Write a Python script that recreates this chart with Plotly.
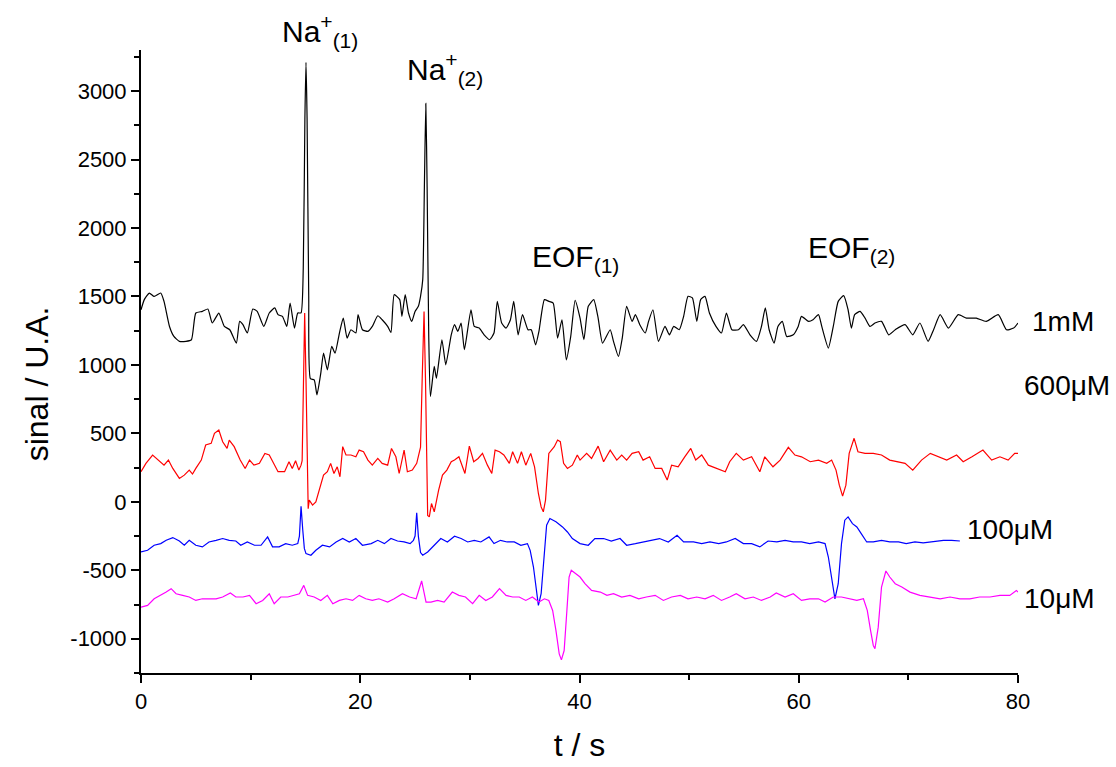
import plotly.graph_objects as go

# ---- data ----
t_1mM = [0, 0.3, 0.76, 1.2, 1.8, 2.1, 2.6, 3.0, 3.5, 4.1, 4.6, 5.0, 5.6, 6.1, 6.5, 7.1, 7.6, 8.1, 8.7, 9.0,
         9.3, 9.7, 10.2, 10.6, 11.2, 11.7, 12.2, 12.5, 12.9, 13.3, 13.6, 14.0, 14.3, 14.6, 14.8, 14.95, 15.05,
         15.15, 15.3, 15.45, 15.8, 16.05, 16.4, 16.65, 17.0, 17.4, 17.7, 18.1, 18.45, 18.8, 19.15, 19.6, 19.8,
         20.2, 20.7, 21.1, 21.6, 22.0, 22.5, 22.8, 23.1, 23.6, 23.8, 24.1, 24.4, 24.7, 25.0, 25.3, 25.5, 25.7,
         25.85, 25.98, 26.1, 26.25, 26.4, 26.75, 26.95, 27.45, 27.8, 28.3, 28.6, 28.9, 29.2, 29.5, 30.1, 30.4,
         30.85, 31.3, 31.8, 32.2, 32.5, 32.9, 33.3, 33.7, 34.0, 34.4, 34.8, 35.3, 35.6, 36.0, 36.3, 36.8, 37.2,
         37.6, 38.0, 38.4, 38.8, 39.2, 39.6, 40.05, 40.4, 40.8, 41.3, 41.7, 42.1, 42.8, 43.1, 43.55, 43.9, 44.3,
         44.8, 45.1, 45.5, 46.0, 46.3, 46.7, 47.2, 47.8, 48.2, 48.6, 49.1, 49.5, 49.9, 50.3, 50.7, 51.05, 51.45,
         51.85, 52.45, 52.95, 53.4, 53.9, 54.5, 54.95, 55.55, 56.15, 56.6, 56.95, 57.3, 57.75, 58.1, 58.5, 58.9,
         59.5, 59.95, 60.25, 60.9, 61.3, 61.8, 62.1, 62.7, 63.15, 63.6, 64.1, 64.5, 64.8, 65.1, 65.6, 66.05,
         66.5, 66.95, 67.55, 68.2, 68.8, 69.7, 70.4, 71.05, 71.8, 72.3, 72.9, 73.65, 74.55, 75.3, 76.2, 77.1,
         78.2, 78.95, 79.6, 80.0]
y_1mM = [1403, 1477, 1525, 1500, 1525, 1464, 1281, 1208, 1172, 1172, 1184, 1379, 1391, 1408, 1306, 1379, 1281,
         1257, 1159, 1318, 1294, 1233, 1408, 1391, 1281, 1379, 1416, 1367, 1355, 1281, 1452, 1269, 1379, 1380,
         1700, 2800, 3210, 2800, 1500, 900, 891, 781, 940, 1086, 964, 1135, 1086, 1233, 1342, 1196, 1257, 1233,
         1367, 1257, 1245, 1281, 1359, 1330, 1281, 1237, 1513, 1477, 1355, 1513, 1379, 1318, 1391, 1428, 1501,
         1623, 2300, 2910, 2300, 1200, 769, 989, 903, 1184, 1001, 1220, 1294, 1245, 1306, 1111, 1403, 1281, 1269,
         1220, 1184, 1233, 1464, 1306, 1269, 1330, 1464, 1220, 1367, 1257, 1257, 1147, 1245, 1477, 1464, 1452,
         1196, 1330, 1037, 1208, 1472, 1342, 1184, 1428, 1477, 1342, 1159, 1257, 1172, 1062, 1196, 1428, 1318,
         1367, 1294, 1233, 1318, 1403, 1172, 1281, 1220, 1281, 1257, 1355, 1501, 1489, 1318, 1477, 1501, 1379,
         1281, 1233, 1379, 1257, 1257, 1294, 1220, 1172, 1281, 1416, 1257, 1159, 1281, 1318, 1208, 1220, 1281,
         1355, 1318, 1330, 1367, 1281, 1123, 1281, 1464, 1506, 1403, 1269, 1367, 1391, 1342, 1281, 1306, 1318,
         1220, 1257, 1294, 1220, 1306, 1172, 1257, 1367, 1269, 1367, 1342, 1342, 1318, 1367, 1257, 1269, 1306]

t_600uM = [0, 0.45, 1.06, 1.7, 2.1, 2.5, 2.9, 3.5, 3.95, 4.4, 4.7, 5.0, 5.5, 5.9, 6.4, 6.7, 7.1, 7.45, 7.85,
           8.05, 8.5, 9.05, 9.5, 9.9, 10.3, 10.8, 11.3, 11.7, 12.2, 12.5, 13.1, 13.5, 13.8, 14.1, 14.4, 14.6,
           14.7, 14.82, 14.93, 15.05, 15.15, 15.25, 15.35, 15.65, 15.95, 16.25, 16.65, 17.0, 17.3, 17.6, 17.9,
           18.15, 18.4, 18.7, 19.15, 19.6, 19.9, 20.3, 20.7, 21.1, 21.6, 22.0, 22.5, 22.85, 23.25, 23.55, 24.0,
           24.3, 24.75, 25.15, 25.4, 25.5, 25.65, 25.82, 25.95, 26.05, 26.15, 26.3, 26.5, 26.75, 27.15, 27.5,
           27.9, 28.3, 28.6, 29.0, 29.25, 29.55, 29.95, 30.35, 30.75, 31.15, 31.6, 32.0, 32.3, 32.7, 33.1, 33.6,
           33.9, 34.35, 34.7, 35.1, 35.55, 35.9, 36.25, 36.5, 36.7, 36.9, 37.2, 37.7, 38.0, 38.25, 38.55, 38.9,
           39.35, 39.8, 40.05, 40.65, 41.1, 41.7, 42.2, 42.8, 43.4, 43.85, 44.3, 44.8, 45.4, 45.8, 46.4, 46.9,
           47.5, 48.0, 48.4, 49.0, 49.6, 50.15, 50.6, 51.15, 51.75, 52.5, 53.3, 53.7, 54.3, 54.95, 55.7, 56.45,
           56.9, 57.65, 58.3, 59.05, 59.65, 60.25, 61.05, 61.8, 62.55, 63.0, 63.4, 63.7, 64.0, 64.3, 64.6, 64.8,
           65.05, 65.4, 66.05, 66.8, 67.55, 68.3, 69.1, 69.7, 70.4, 71.2, 72.0, 72.7, 73.5, 74.4, 75.0, 75.8,
           76.8, 77.6, 78.35, 79.1, 79.7, 80.0]
y_600uM = [220, 281, 342, 293, 268, 305, 244, 171, 195, 232, 203, 244, 305, 415, 427, 500, 525, 439, 390, 451,
           403, 305, 244, 305, 268, 281, 354, 342, 268, 220, 220, 293, 244, 300, 232, 268, 300, 900, 1380, 900,
           200, -50, 12, -24, 0, 85, 195, 220, 281, 207, 256, 183, 403, 342, 342, 329, 378, 366, 305, 268, 317,
           281, 268, 390, 329, 207, 378, 220, 232, 281, 354, 400, 900, 1390, 900, 200, -100, -110, -12, -73, 85,
           195, 232, 293, 305, 329, 268, 207, 407, 293, 317, 354, 268, 207, 378, 366, 342, 281, 366, 281, 366,
           268, 354, 256, 61, -37, -73, 12, 354, 403, 451, 439, 281, 244, 268, 342, 305, 354, 317, 407, 293, 378,
           305, 342, 305, 354, 366, 305, 329, 244, 244, 159, 268, 256, 329, 390, 305, 342, 268, 244, 220, 293,
           354, 305, 329, 220, 329, 256, 305, 398, 342, 329, 293, 305, 281, 305, 232, 122, 42, 122, 354, 403,
           464, 366, 354, 354, 342, 305, 293, 281, 232, 305, 354, 329, 305, 342, 293, 329, 378, 305, 329, 305,
           354, 354]

t_100uM = [0, 0.6, 1.2, 1.8, 2.3, 2.9, 3.5, 3.95, 4.4, 5.0, 5.6, 6.2, 6.85, 7.45, 8.05, 8.65, 9.1, 9.7, 10.35,
           10.95, 11.55, 12.0, 12.6, 13.2, 13.8, 14.3, 14.45, 14.6, 14.75, 14.9, 15.05, 15.5, 15.95, 16.55,
           17.2, 17.8, 18.4, 19.0, 19.6, 20.2, 21.0, 21.6, 22.2, 22.8, 23.4, 24.0, 24.55, 24.85, 25.0, 25.15,
           25.3, 25.5, 25.7, 26.15, 26.75, 27.35, 27.95, 28.6, 29.2, 29.8, 30.4, 31.0, 31.75, 32.2, 32.8, 33.4,
           34.05, 34.65, 35.25, 35.5, 35.8, 36.1, 36.25, 36.5, 36.8, 37.0, 37.3, 37.85, 38.45, 38.9, 39.35,
           39.8, 40.05, 40.8, 41.4, 42.2, 42.9, 43.7, 44.3, 45.1, 45.8, 46.6, 47.3, 48.1, 48.9, 49.5, 50.4,
           51.15, 51.9, 52.7, 53.4, 54.2, 54.95, 55.7, 56.45, 57.2, 58.0, 58.75, 59.5, 60.25, 61.0, 61.8, 62.4,
           62.7, 63.0, 63.3, 63.6, 63.9, 64.2, 64.5, 64.9, 65.3, 65.7, 66.2, 66.8, 67.55, 68.3, 69.1, 69.8,
           70.6, 71.35, 72.3, 73.2, 73.95, 74.7]
y_100uM = [-366, -354, -317, -305, -281, -261, -286, -317, -281, -317, -329, -293, -281, -268, -281, -286, -317,
           -293, -317, -317, -256, -329, -329, -305, -317, -305, -250, -32, -200, -340, -378, -390, -354, -317,
           -329, -293, -268, -293, -268, -317, -305, -281, -305, -268, -286, -293, -305, -281, -250, -80, -250,
           -370, -390, -366, -317, -268, -293, -251, -268, -293, -281, -293, -256, -305, -281, -293, -293, -317,
           -305, -354, -476, -671, -756, -671, -354, -171, -122, -146, -183, -220, -268, -293, -305, -317, -268,
           -268, -286, -268, -317, -305, -293, -281, -268, -293, -244, -293, -293, -305, -293, -305, -293, -268,
           -305, -305, -329, -286, -293, -281, -293, -293, -305, -293, -305, -403, -573, -708, -598, -305, -134,
           -110, -159, -183, -232, -293, -293, -281, -293, -293, -305, -293, -300, -293, -281, -281, -286]

t_10uM = [0, 0.6, 1.2, 1.8, 2.3, 2.75, 3.2, 3.8, 4.4, 5.0, 5.6, 6.2, 6.85, 7.45, 8.15, 8.65, 9.3, 9.9, 10.5,
          11.1, 11.7, 12.15, 12.75, 13.4, 14.0, 14.45, 14.85, 15.2, 15.8, 16.4, 17.0, 17.5, 18.1, 18.7, 19.3,
          19.9, 20.5, 21.1, 21.7, 22.5, 23.1, 23.85, 24.5, 25.1, 25.6, 26.0, 26.45, 27.05, 27.65, 28.4, 29.0,
          29.6, 30.25, 30.85, 31.45, 32.05, 32.7, 33.3, 33.9, 34.5, 35.1, 35.7, 36.3, 36.8, 37.2, 37.55, 37.85,
          38.15, 38.35, 38.6, 38.85, 39.05, 39.25, 39.65, 40.05, 40.5, 41.1, 41.9, 42.5, 43.1, 43.85, 44.6, 45.4,
          46.1, 46.9, 47.65, 48.4, 49.2, 49.9, 50.7, 51.45, 52.2, 52.95, 53.7, 54.3, 55.1, 55.85, 56.6, 57.4,
          57.95, 58.75, 59.5, 60.25, 61.0, 61.8, 62.4, 63.15, 63.9, 64.5, 65.3, 65.9, 66.25, 66.55, 66.8, 66.95,
          67.25, 67.55, 67.95, 68.3, 68.8, 69.4, 70.15, 71.05, 71.95, 72.9, 73.8, 74.7, 75.6, 76.5, 77.45, 78.35,
          79.25, 79.85, 80.0]
y_10uM = [-769, -756, -708, -683, -659, -634, -671, -683, -695, -720, -708, -708, -708, -695, -666, -695, -695,
          -683, -744, -720, -671, -744, -695, -695, -683, -671, -610, -683, -695, -720, -683, -744, -720, -708,
          -720, -683, -708, -720, -708, -732, -708, -671, -695, -708, -578, -732, -732, -720, -732, -659, -683,
          -695, -744, -683, -720, -695, -634, -683, -695, -695, -720, -695, -732, -708, -720, -793, -939, -1110,
          -1154, -1086, -793, -549, -500, -525, -549, -598, -647, -659, -683, -671, -695, -683, -708, -695, -683,
          -720, -695, -683, -708, -695, -708, -683, -720, -695, -671, -708, -695, -720, -695, -666, -695, -671,
          -720, -708, -708, -732, -695, -695, -708, -720, -708, -793, -939, -1049, -1073, -915, -622, -505, -549,
          -598, -622, -659, -683, -695, -708, -695, -708, -708, -695, -695, -683, -683, -647, -659]

series_names = ["1mM", "600\u03bcM", "100\u03bcM", "10\u03bcM"]
series_colors = ["#000000", "#FF0000", "#0000FF", "#FF00FF"]

x_ticks = [0, 20, 40, 60, 80]
x_ticktext = ["0", "20", "40", "60", "80"]
y_ticks = [-1000, -500, 0, 500, 1000, 1500, 2000, 2500, 3000]
y_ticktext = ["-1000", "-500", "0", "500", "1000", "1500", "2000", "2500", "3000"]

FONT = "Liberation Sans, Arial, sans-serif"

fig = go.Figure()
for tx, ty, nm, col, shp in [(t_1mM, y_1mM, series_names[0], series_colors[0], "spline"),
                             (t_600uM, y_600uM, series_names[1], series_colors[1], "linear"),
                             (t_100uM, y_100uM, series_names[2], series_colors[2], "linear"),
                             (t_10uM, y_10uM, series_names[3], series_colors[3], "linear")]:
    line = dict(color=col, width=1.2, shape=shp)
    if shp == "spline":
        line["smoothing"] = 0.5
    fig.add_trace(go.Scatter(x=tx, y=ty, mode="lines", name=nm, line=line, showlegend=False))

# curve labels (paper coordinates)
label_pos = [(1.0137, 0.564), (1.0046, 0.461), (0.9396, 0.231), (1.0046, 0.119)]
for (lx, ly), nm in zip(label_pos, series_names):
    fig.add_annotation(x=lx, y=ly, xref="paper", yref="paper", text=nm, showarrow=False,
                       xanchor="left", yanchor="middle",
                       font=dict(family=FONT, size=28, color="black"))

peak_labels = [
    (0.1585, 1.030, "Na<sup>+</sup><sub>(1)</sub>"),
    (0.301, 0.969, "Na<sup>+</sup><sub>(2)</sub>"),
    (0.4436, 0.666, "EOF<sub>(1)</sub>"),
    (0.758, 0.679, "EOF<sub>(2)</sub>"),
]
for px_, py_, txt in peak_labels:
    fig.add_annotation(x=px_, y=py_, xref="paper", yref="paper", text=txt, showarrow=False,
                       xanchor="left", yanchor="middle",
                       font=dict(family=FONT, size=30, color="black"))

# y axis title
fig.add_annotation(x=-0.1186, y=0.465, xref="paper", yref="paper", text="sinal / U.A.",
                   textangle=-90, showarrow=False, xanchor="center", yanchor="middle",
                   font=dict(family=FONT, size=32, color="black"))

axis_common = dict(showline=True, linecolor="black", linewidth=2, ticks="outside", tickwidth=2,
                   ticklen=8, tickcolor="black", showgrid=False, zeroline=False, mirror=False,
                   tickfont=dict(family=FONT, size=22, color="black"))

fig.update_xaxes(range=[0, 80], tickvals=x_ticks, ticktext=x_ticktext,
                 minor=dict(dtick=10, ticks="outside", ticklen=5, tickwidth=2, tickcolor="black"),
                 title=dict(text="t / s", font=dict(family=FONT, size=32, color="black"), standoff=20),
                 **axis_common)
fig.update_yaxes(range=[-1250, 3300], tickvals=y_ticks, ticktext=y_ticktext,
                 minor=dict(dtick=250, ticks="outside", ticklen=5, tickwidth=2, tickcolor="black"),
                 **axis_common)

fig.update_layout(width=1116, height=767, plot_bgcolor="white", paper_bgcolor="white",
                  margin=dict(l=141, r=98, t=50, b=94, autoexpand=False), showlegend=False,
                  font=dict(family=FONT, color="black"))

fig.write_html("out.html", config={"displayModeBar": False},
               post_script="document.body.style.margin='0px';")
